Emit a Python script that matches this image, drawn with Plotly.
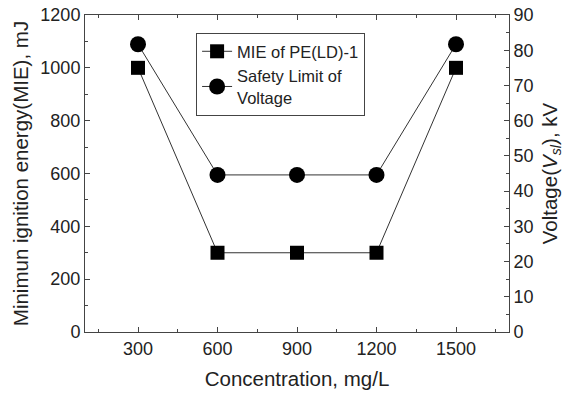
import plotly.graph_objects as go

concentration = [300, 600, 900, 1200, 1500]
mie = [1000, 300, 300, 300, 1000]
voltage = [81.7, 44.6, 44.6, 44.6, 81.7]
x_ticks = [300, 600, 900, 1200, 1500]

font = "Liberation Sans, Arial, sans-serif"
fig = go.Figure()
fig.add_trace(go.Scatter(
    x=concentration, y=mie, name="MIE of PE(LD)-1", mode="lines+markers",
    line=dict(color="#333333", width=1),
    marker=dict(symbol="square", size=14, color="black"),
))
fig.add_trace(go.Scatter(
    x=concentration, y=voltage, name="Safety Limit of<br>Voltage", mode="lines+markers",
    yaxis="y2",
    line=dict(color="#333333", width=1),
    marker=dict(symbol="circle", size=16, color="black"),
))

axis_common = dict(
    showline=True, linecolor="#444", linewidth=1, ticks="inside", ticklen=5,
    tickcolor="#444", showgrid=False, zeroline=False, automargin=False,
    ticklabeloverflow="allow",
    tickfont=dict(family=font, size=18, color="#222"),
)

fig.update_layout(
    width=564, height=394,
    margin=dict(l=85, r=55, t=15, b=62, autoexpand=False),
    paper_bgcolor="white", plot_bgcolor="white",
    font=dict(family=font, color="#222"),
    xaxis=dict(
        range=[100, 1700], tickvals=x_ticks, mirror="ticks",
        minor=dict(ticks="inside", ticklen=3, dtick=150, tick0=0, tickcolor="#444"),
        title=dict(text="Concentration, mg/L", font=dict(size=20.5), standoff=14),
        **axis_common,
    ),
    yaxis=dict(
        range=[0, 1200], dtick=200,
        minor=dict(ticks="inside", ticklen=3, dtick=100, tickcolor="#444"),
        title=dict(text="Minimun ignition energy(MIE), mJ", font=dict(size=20.5), standoff=6),
        **axis_common,
    ),
    yaxis2=dict(
        range=[0, 90], dtick=10, overlaying="y", side="right",
        minor=dict(ticks="inside", ticklen=3, dtick=5, tickcolor="#444"),
        title=dict(text="Voltage(<i>V</i><sub><i>sl</i></sub>), kV", font=dict(size=20.5), standoff=12),
        **axis_common,
    ),
    legend=dict(
        x=0.262, y=0.943, xanchor="left", yanchor="top",
        bordercolor="#444", borderwidth=1, bgcolor="white",
        font=dict(family=font, size=16.5, color="#222"),
        itemwidth=30, tracegroupgap=0,
    ),
    showlegend=True,
)

# remove the default 8px page margin so the figure fills the window
fig.write_html("out.html", config={"displayModeBar": False},
               post_script="document.body.style.margin='0';")
